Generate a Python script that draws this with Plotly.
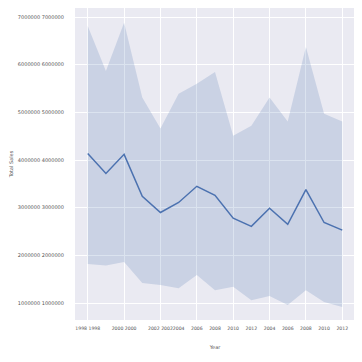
import plotly.graph_objects as go

years = list(range(1998, 2013))
mean_vals = [4.14, 3.72, 4.12, 3.24, 2.90, 3.11, 3.45, 3.26, 2.78, 2.61, 2.99, 2.65, 3.38, 2.69, 2.53]
upper_vals = [6.81, 5.87, 6.88, 5.31, 4.66, 5.39, 5.60, 5.85, 4.51, 4.72, 5.31, 4.81, 6.37, 4.97, 4.81]
lower_vals = [1.82, 1.79, 1.86, 1.42, 1.38, 1.31, 1.59, 1.27, 1.34, 1.06, 1.15, 0.96, 1.27, 1.02, 0.92]
mean_vals = [v * 1e6 for v in mean_vals]
upper_vals = [v * 1e6 for v in upper_vals]
lower_vals = [v * 1e6 for v in lower_vals]

grid_idx = [0, 2, 4, 6, 8, 10, 12, 14]
xtick_idx = [0, 2, 4, 5, 6, 7, 8, 9, 10, 11, 12, 13, 14]
xtick_text = ["1998 1998", "2000 2000", "2002 2002",
              "2004", "2006", "2008", "2010", "2012",
              "2004", "2006", "2008", "2010", "2012"]
ytick_vals = [1e6, 2e6, 3e6, 4e6, 5e6, 6e6, 7e6]
ytick_text = ["1000000 1000000", "2000000 2000000", "3000000 3000000",
              "4000000 4000000", "5000000 5000000", "6000000 6000000",
              "7000000 7000000"]

idx = list(range(len(years)))
blue = "#4c72b0"

fig = go.Figure()
fig.add_trace(go.Scatter(x=idx, y=upper_vals, mode="lines", line=dict(width=0),
                         showlegend=False, hoverinfo="skip"))
fig.add_trace(go.Scatter(x=idx, y=lower_vals, mode="lines", line=dict(width=0),
                         fill="tonexty", fillcolor="rgba(76,114,176,0.2)",
                         showlegend=False, hoverinfo="skip"))
fig.add_trace(go.Scatter(x=idx, y=mean_vals, mode="lines",
                         line=dict(color=blue, width=1.5), showlegend=False))
fig.add_trace(go.Scatter(x=[idx[0]], y=[mean_vals[0]], xaxis="x2", mode="markers",
                         marker=dict(opacity=0), showlegend=False, hoverinfo="skip"))

xr = [-0.7, 14.7]
fig.update_layout(
    width=354, height=354,
    margin=dict(l=67, r=7, t=0, b=42),
    paper_bgcolor="white",
    plot_bgcolor="#eaeaf2",
    font=dict(family="DejaVu Sans", size=5, color="#555555"),
    xaxis=dict(range=xr, tickvals=grid_idx, showticklabels=False, automargin=False,
               showgrid=True, gridcolor="white", gridwidth=1, zeroline=False,
               ticks="", title=dict(text="Year", font=dict(size=5), standoff=25)),
    xaxis2=dict(range=xr, overlaying="x", side="bottom", tickvals=xtick_idx,
                ticktext=xtick_text, showgrid=False, zeroline=False, ticks="",
                automargin=False, ticklabelstandoff=4,
                tickangle=0, tickfont=dict(size=4.6, color="#555555")),
    yaxis=dict(range=[0.645e6, 7.19e6], tickvals=ytick_vals, ticktext=ytick_text,
               showgrid=True, gridcolor="white", gridwidth=1, zeroline=False,
               ticks="", ticklabelstandoff=10, automargin=False,
               title=dict(text="Total Sales", font=dict(size=5), standoff=11)),
)
fig.write_html("out.html")
